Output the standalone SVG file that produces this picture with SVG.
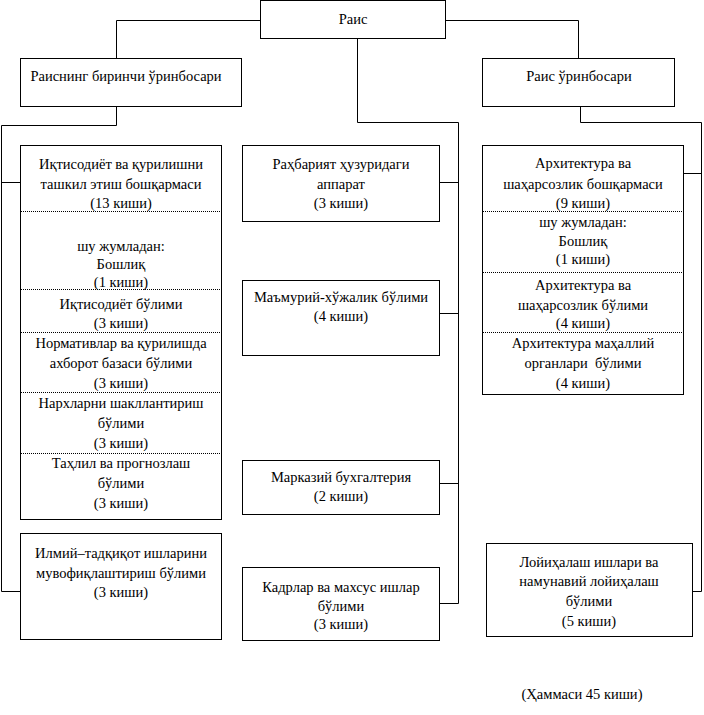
<svg xmlns="http://www.w3.org/2000/svg" width="704" height="715" viewBox="0 0 704 715">
<style>
.box{fill:#fff;stroke:#000;stroke-width:1}
.ln{fill:none;stroke:#000;stroke-width:1}
.dot{fill:none;stroke:#000;stroke-width:1;stroke-dasharray:1 1}
text{font-family:"Liberation Serif","Times New Roman",serif;font-size:14.5px;fill:#000;text-anchor:middle}
</style>
<rect width="704" height="715" fill="#fff"/>
<g id="connectors">
<polyline class="ln" points="260.5,20.5 116.5,20.5 116.5,58.5"/>
<polyline class="ln" points="445.5,20.5 578.5,20.5 578.5,58.5"/>
<polyline class="ln" points="357.5,38.5 357.5,122.5 458.5,122.5 458.5,603.5"/>
<line class="ln" x1="439.5" y1="182.5" x2="458.5" y2="182.5"/>
<line class="ln" x1="439.5" y1="313.5" x2="458.5" y2="313.5"/>
<line class="ln" x1="439.5" y1="483.5" x2="458.5" y2="483.5"/>
<line class="ln" x1="439.5" y1="603.5" x2="458.5" y2="603.5"/>
<polyline class="ln" points="116.5,106.5 116.5,125.5 1.5,125.5 1.5,591.5 20.5,591.5"/>
<line class="ln" x1="1.5" y1="182.5" x2="20.5" y2="182.5"/>
<polyline class="ln" points="580.5,106.5 580.5,122.5 701.5,122.5 701.5,591.5 692.5,591.5"/>
<line class="ln" x1="683.5" y1="173.5" x2="701.5" y2="173.5"/>
</g>
<g id="rais">
<rect class="box" x="260.5" y="0.5" width="185" height="38"/>
<text x="353" y="24">Раис</text>
</g>
<g id="first-deputy">
<rect class="box" x="20.5" y="58.5" width="221" height="48"/>
<text x="126" y="81">Раиснинг биринчи ўринбосари</text>
</g>
<g id="deputy">
<rect class="box" x="482.5" y="58.5" width="192" height="48"/>
<text x="579" y="81">Раис ўринбосари</text>
</g>
<g id="economy">
<rect class="box" x="20.5" y="145.5" width="201" height="374"/>
<text x="121" y="169">Иқтисодиёт ва қурилишни</text>
<text x="121" y="189">ташкил этиш бошқармаси</text>
<text x="121" y="208">(13 киши)</text>
<line class="dot" x1="21" y1="211.5" x2="221" y2="211.5"/>
<text x="121" y="251">шу жумладан:</text>
<text x="121" y="269">Бошлиқ</text>
<text x="121" y="287">(1 киши)</text>
<line class="dot" x1="21" y1="289.5" x2="221" y2="289.5"/>
<text x="121" y="309">Иқтисодиёт бўлими</text>
<text x="121" y="328">(3 киши)</text>
<line class="dot" x1="21" y1="332.5" x2="221" y2="332.5"/>
<text x="121" y="348">Нормативлар ва қурилишда</text>
<text x="121" y="368">ахборот базаси бўлими</text>
<text x="121" y="388">(3 киши)</text>
<line class="dot" x1="21" y1="392.5" x2="221" y2="392.5"/>
<text x="121" y="408">Нархларни шакллантириш</text>
<text x="121" y="428">бўлими</text>
<text x="121" y="448">(3 киши)</text>
<line class="dot" x1="21" y1="453.5" x2="221" y2="453.5"/>
<text x="121" y="468">Таҳлил ва прогнозлаш</text>
<text x="121" y="488">бўлими</text>
<text x="121" y="508">(3 киши)</text>
</g>
<g id="research">
<rect class="box" x="20.5" y="533.5" width="201" height="106"/>
<text x="121" y="558">Илмий–тадқиқот ишларини</text>
<text x="121" y="578">мувофиқлаштириш бўлими</text>
<text x="121" y="597">(3 киши)</text>
</g>
<g id="apparatus">
<rect class="box" x="242.5" y="145.5" width="197" height="76"/>
<text x="341" y="169">Раҳбарият ҳузуридаги</text>
<text x="341" y="189">аппарат</text>
<text x="341" y="208">(3 киши)</text>
</g>
<g id="admin">
<rect class="box" x="242.5" y="280.5" width="197" height="75"/>
<text x="341" y="302">Маъмурий-хўжалик бўлими</text>
<text x="341" y="321">(4 киши)</text>
</g>
<g id="accounting">
<rect class="box" x="242.5" y="460.5" width="197" height="54"/>
<text x="341" y="482">Марказий бухгалтерия</text>
<text x="341" y="501">(2 киши)</text>
</g>
<g id="personnel">
<rect class="box" x="242.5" y="567.5" width="197" height="73"/>
<text x="341" y="592">Кадрлар ва махсус ишлар</text>
<text x="341" y="611">бўлими</text>
<text x="341" y="629">(3 киши)</text>
</g>
<g id="architecture">
<rect class="box" x="482.5" y="145.5" width="201" height="249"/>
<text x="583" y="168">Архитектура ва</text>
<text x="583" y="189">шаҳарсозлик бошқармаси</text>
<text x="583" y="208">(9 киши)</text>
<line class="dot" x1="483" y1="211.5" x2="683" y2="211.5"/>
<text x="583" y="227">шу жумладан:</text>
<text x="583" y="246">Бошлиқ</text>
<text x="583" y="264">(1 киши)</text>
<line class="dot" x1="483" y1="272.5" x2="683" y2="272.5"/>
<text x="583" y="290">Архитектура ва</text>
<text x="583" y="310">шаҳарсозлик бўлими</text>
<text x="583" y="328">(4 киши)</text>
<line class="dot" x1="483" y1="332.5" x2="683" y2="332.5"/>
<text x="583" y="348">Архитектура маҳаллий</text>
<text x="583" y="368" xml:space="preserve">органлари  бўлими</text>
<text x="583" y="388">(4 киши)</text>
</g>
<g id="design">
<rect class="box" x="486.5" y="543.5" width="206" height="93"/>
<text x="589" y="567">Лойиҳалаш ишлари ва</text>
<text x="589" y="586">намунавий лойиҳалаш</text>
<text x="589" y="606">бўлими</text>
<text x="589" y="626">(5 киши)</text>
</g>
<text x="582" y="699">(Ҳаммаси 45 киши)</text>
</svg>
